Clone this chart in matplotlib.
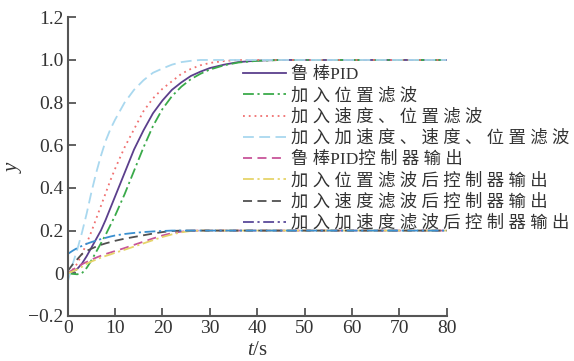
import matplotlib
matplotlib.use("Agg")
import matplotlib.pyplot as plt
from matplotlib.lines import Line2D
from matplotlib.ticker import FuncFormatter

plt.rcParams['font.family'] = ['Liberation Serif', 'Noto Sans CJK SC', 'DejaVu Sans']
plt.rcParams['axes.unicode_minus'] = True
plt.rcParams['mathtext.fontset'] = 'custom'
plt.rcParams['mathtext.it'] = 'Liberation Serif:italic'
plt.rcParams['mathtext.rm'] = 'Liberation Serif'

t = [0, 1, 2, 3, 4, 5, 6, 7, 8, 9, 10, 12, 14, 16, 18, 20, 22, 24, 26, 28, 30,
     33, 36, 40, 45, 50, 60, 70, 80]

y_pid = [0, 0.005, 0.02, 0.045, 0.08, 0.12, 0.16, 0.2, 0.25, 0.305, 0.36, 0.47, 0.58,
         0.67, 0.75, 0.81, 0.86, 0.895, 0.925, 0.945, 0.962, 0.978, 0.99, 0.997, 1.0,
         1.0, 1.0, 1.0, 1.0]
y_pos = [0, -0.003, -0.005, 0.0, 0.025, 0.06, 0.1, 0.14, 0.18, 0.225, 0.27, 0.37, 0.48,
         0.59, 0.69, 0.77, 0.83, 0.875, 0.91, 0.935, 0.955, 0.975, 0.988, 0.996, 1.0,
         1.0, 1.0, 1.0, 1.0]
y_vel = [0, 0.015, 0.045, 0.09, 0.14, 0.195, 0.255, 0.315, 0.375, 0.435, 0.49, 0.59,
         0.675, 0.76, 0.82, 0.865, 0.9, 0.935, 0.958, 0.975, 0.986, 0.995, 1.0, 1.0,
         1.0, 1.0, 1.0, 1.0, 1.0]
y_acc = [-0.04, 0.04, 0.11, 0.19, 0.28, 0.38, 0.47, 0.55, 0.62, 0.675, 0.72, 0.8, 0.86,
         0.905, 0.94, 0.96, 0.978, 0.99, 0.996, 1.0, 1.0, 1.0, 1.0, 1.0, 1.0, 1.0, 1.0,
         1.0, 1.0]
u_pid = [0, 0.015, 0.03, 0.042, 0.053, 0.064, 0.073, 0.082, 0.09, 0.097, 0.104, 0.118,
         0.133, 0.148, 0.163, 0.177, 0.188, 0.195, 0.199, 0.2, 0.2, 0.2, 0.2, 0.2, 0.2,
         0.2, 0.2, 0.2, 0.2]
u_pos = [0, 0.008, 0.018, 0.03, 0.045, 0.055, 0.064, 0.073, 0.081, 0.088, 0.096, 0.11,
         0.125, 0.14, 0.155, 0.17, 0.182, 0.192, 0.198, 0.2, 0.2, 0.2, 0.2, 0.2, 0.2,
         0.2, 0.2, 0.2, 0.2]
u_vel = [0.01, 0.04, 0.065, 0.09, 0.105, 0.115, 0.125, 0.133, 0.14, 0.146, 0.152, 0.162,
         0.17, 0.178, 0.186, 0.193, 0.198, 0.2, 0.2, 0.2, 0.2, 0.2, 0.2, 0.2, 0.2, 0.2,
         0.2, 0.2, 0.2]
u_acc = [0.09, 0.105, 0.118, 0.128, 0.138, 0.146, 0.153, 0.16, 0.166, 0.172, 0.177,
         0.184, 0.189, 0.193, 0.196, 0.198, 0.2, 0.2, 0.2, 0.2, 0.2, 0.2, 0.2, 0.2, 0.2,
         0.2, 0.2, 0.2, 0.2]

labels = ['鲁棒PID', '加入位置滤波', '加入速度、位置滤波', '加入加速度、速度、位置滤波',
          '鲁棒PID控制器输出', '加入位置滤波后控制器输出', '加入速度滤波后控制器输出',
          '加入加速度滤波后控制器输出']
x_ticks = [0, 10, 20, 30, 40, 50, 60, 70, 80]
y_ticks = [-0.2, 0, 0.2, 0.4, 0.6, 0.8, 1.0, 1.2]


def spaced(s):
    out = ''
    for i, ch in enumerate(s):
        out += ch
        if i < len(s) - 1:
            nxt = s[i + 1]
            if not ch.isascii() and not nxt.isascii():
                out += ' '
    return out


fig = plt.figure(figsize=(5.74, 3.61), dpi=100)
ax = fig.add_axes([0.118, 0.125, 0.660, 0.827])

lw = 1.3
styles = [
    (y_pid, '#5b3f8c', '-'),
    (y_pos, '#3aaa4a', (0, (6, 2, 1.2, 2))),
    (y_vel, '#f07070', (0, (1, 2.2))),
    (y_acc, '#a9d8ef', (0, (6, 3))),
    (u_pid, '#c8559a', (0, (5, 3))),
    (u_pos, '#e6d46a', (0, (6, 2, 1.2, 2))),
    (u_vel, '#505050', (0, (5, 3))),
]
handles = []
for (data, col, ls), lab in zip(styles, labels[:7]):
    h, = ax.plot(t, data, color=col, ls=ls, lw=lw)
    handles.append(h)
ax.plot(t, u_acc, color='#3a90d0', ls=(0, (6, 2, 1.2, 2)), lw=lw)
handles.append(Line2D([], [], color='#5a4a9a', ls=(0, (6, 2, 1.2, 2)), lw=lw))

ax.set_xlim(0, 80)
ax.set_ylim(-0.2, 1.2)
ax.set_xticks(x_ticks)
ax.set_yticks(y_ticks)


def yfmt(v, pos):
    if abs(v) < 1e-9:
        return '0'
    return ('%.1f' % v).replace('-', '\u2212')


ax.yaxis.set_major_formatter(FuncFormatter(yfmt))
for sp in ['top', 'right']:
    ax.spines[sp].set_visible(False)
for sp in ['left', 'bottom']:
    ax.spines[sp].set_color('#555555')
    ax.spines[sp].set_linewidth(1.5)
ax.tick_params(direction='in', length=6, width=1.3, color='#555555',
               labelsize=14, labelcolor='#333333', pad=3)

ax.set_ylabel('$y$', fontsize=15, color='#333333', labelpad=3)
ax.set_xlabel('$t$/s', fontsize=15, color='#333333', labelpad=3)

leg = fig.legend(handles, [spaced(l) for l in labels], loc='upper left',
                 bbox_to_anchor=(243 / 574, 1 - 67 / 361), frameon=False,
                 prop={'size': 12.5}, handlelength=2.5, handletextpad=0.25,
                 labelspacing=0.28, borderpad=0, borderaxespad=0)
for txt in leg.get_texts():
    txt.set_color('#333333')

fig.savefig('out.png', dpi=100)
